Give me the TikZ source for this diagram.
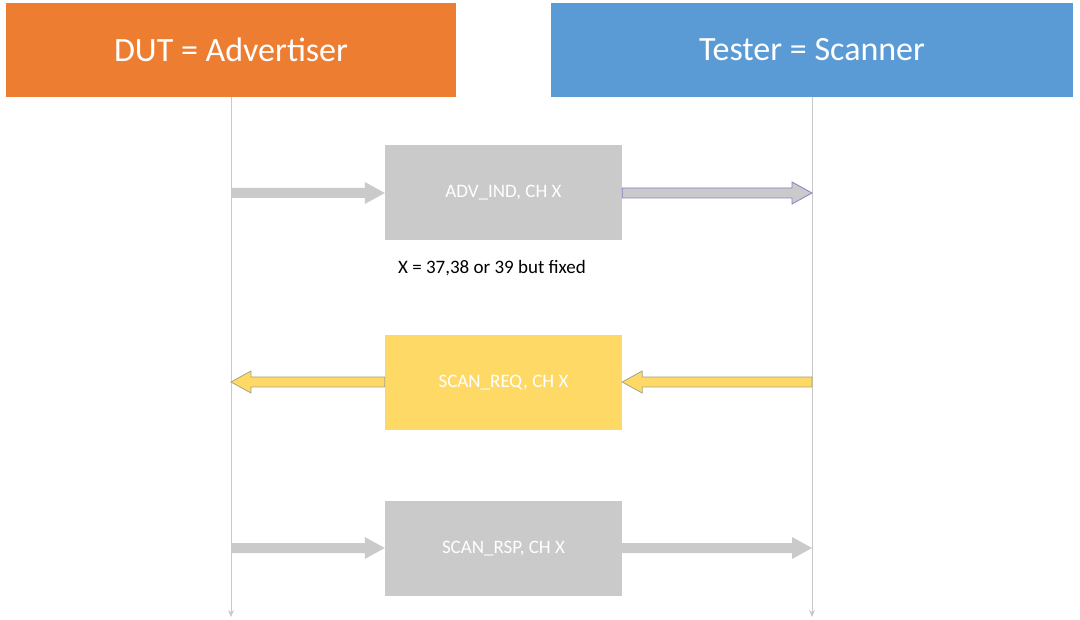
\documentclass[tikz,border=0pt]{standalone}
\usepackage{fontspec}
\setmainfont{Carlito}
\usetikzlibrary{calc,arrows.meta}
\definecolor{orangeh}{HTML}{ED7D31}
\definecolor{blueh}{HTML}{5B9BD5}
\definecolor{boxgray}{HTML}{CACACA}
\definecolor{boxyel}{HTML}{FFD966}
\definecolor{lifeg}{HTML}{C8C8C8}
\tikzset{
 head/.style={draw=none,minimum width=#1,minimum height=94pt,inner sep=0pt,text=white,font=\fontsize{34}{40}\selectfont},
 msg/.style={minimum width=237pt,minimum height=95pt,inner sep=0pt,text=white,font=\fontsize{19}{23}\selectfont},
 life/.style={draw=lifeg,line width=1pt,-{Stealth[length=7pt,width=6pt]}},
 garrow/.style={fill=boxgray,draw=none},
 barrow/.style={fill=boxgray,draw=gray!60!blue!70,line width=0.8pt},
 yarrow/.style={fill=boxyel,draw=gray!80!yellow,line width=0.8pt}
}
\newcommand\harrow[3]{%
 \path let \p1=(#2), \p2=(#3), \n1={sign(\x2-\x1)} in
 [#1] (\x1,\y1+5pt) -- (\x2-\n1*20pt,\y1+5pt) -- (\x2-\n1*20pt,\y1+11pt) -- (\x2,\y1)
 -- (\x2-\n1*20pt,\y1-11pt) -- (\x2-\n1*20pt,\y1-5pt) -- (\x1,\y1-5pt) -- cycle;}
\begin{document}
\begin{tikzpicture}[x=1pt,y=-1pt]
\useasboundingbox (0,0) rectangle (1080,620);
\node[head=450pt,fill=orangeh] (dut) at (231,50) {DUT = Advertiser};
\node[head=522pt,fill=blueh] (tes) at (812,50) {Tester = Scanner};
\coordinate (dend) at (231,617);
\coordinate (tend) at (812,617);
\draw[life] (dut.south) -- (dend);
\draw[life] (tes.south -| 812,0) -- (tend);
\node[msg,fill=boxgray] (adv) at (503.5,192.5) {ADV\_IND, CH X};
\node[msg,fill=boxyel] (req) at (503.5,382.5) {SCAN\_REQ, CH X};
\node[msg,fill=boxgray] (rsp) at (503.5,548.5) {SCAN\_RSP, CH X};
\node[font=\fontsize{19}{23}\selectfont] (xlab) at (492,268) {X = 37,38 or 39 but fixed};
\coordinate (d1) at (231,193); \coordinate (t1) at (812,193);
\coordinate (d2) at (231,382); \coordinate (t2) at (812,382);
\coordinate (d3) at (231,548); \coordinate (t3) at (812,548);
\harrow{garrow}{d1}{adv.west|-d1}
\harrow{barrow}{adv.east|-t1}{t1}
\harrow{yarrow}{t2}{req.east|-t2}
\harrow{yarrow}{req.west|-d2}{d2}
\harrow{garrow}{d3}{rsp.west|-d3}
\harrow{garrow}{rsp.east|-t3}{t3}
\end{tikzpicture}
\end{document}
